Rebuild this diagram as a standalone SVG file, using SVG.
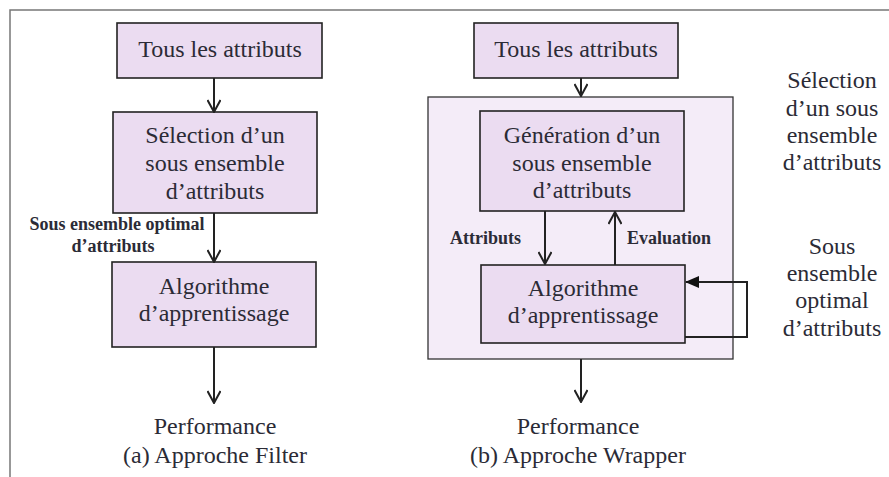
<svg xmlns="http://www.w3.org/2000/svg" width="889" height="477" viewBox="0 0 889 477">
<defs>
<marker id="open" viewBox="0 0 14 14" refX="13" refY="7" markerWidth="14" markerHeight="14" markerUnits="userSpaceOnUse" orient="auto">
<polyline points="1,0.5 13,7 1,13.5" fill="none" stroke="#222" stroke-width="2"/>
</marker>
<marker id="solid" viewBox="0 0 14 12" refX="13" refY="6" markerWidth="14" markerHeight="12" markerUnits="userSpaceOnUse" orient="auto">
<polygon points="0,0 14,6 0,12" fill="#111"/>
</marker>
</defs>
<style>
.box{fill:#ebdcf1;stroke:#222;stroke-width:1.6}
.wrap{fill:#f4ecf8;stroke:#333;stroke-width:1.3}
.t{font-family:"Liberation Serif","Times New Roman",serif;font-size:24px;fill:#2b2b36;text-anchor:middle}
.s{font-family:"Liberation Serif","Times New Roman",serif;font-size:18px;font-weight:bold;fill:#2b2b36}
.c{fill:none;stroke:#222;stroke-width:2}
.frame{fill:none;stroke:#777;stroke-width:1.5}
</style>
<rect width="889" height="477" fill="#ffffff"/>
<polyline class="frame" points="10,477 10,10 889,10"/>

<g id="wrapper">
<rect class="wrap" x="428" y="97" width="305" height="262"/>
</g>

<g id="a-tous">
<rect class="box" x="117" y="23" width="205" height="55"/>
<text class="t" x="220" y="57">Tous les attributs</text>
</g>
<g id="a-selection">
<rect class="box" x="113" y="112" width="204" height="101"/>
<text class="t" x="215" y="143">Sélection d’un</text>
<text class="t" x="215" y="171">sous ensemble</text>
<text class="t" x="215" y="199">d’attributs</text>
</g>
<g id="a-algo">
<rect class="box" x="112" y="262" width="204" height="85"/>
<text class="t" x="214" y="294">Algorithme</text>
<text class="t" x="214" y="321">d’apprentissage</text>
</g>
<g id="a-perf">
<text class="t" x="215" y="434">Performance</text>
<text class="t" x="215" y="463">(a) Approche Filter</text>
</g>
<g id="a-label">
<text class="s" x="117" y="230" text-anchor="middle">Sous ensemble optimal</text>
<text class="s" x="113" y="252" text-anchor="middle">d’attributs</text>
</g>

<g id="b-tous">
<rect class="box" x="474" y="23" width="204" height="55"/>
<text class="t" x="576" y="57">Tous les attributs</text>
</g>
<g id="b-generation">
<rect class="box" x="480" y="111" width="204" height="100"/>
<text class="t" x="582" y="143">Génération d’un</text>
<text class="t" x="582" y="171">sous ensemble</text>
<text class="t" x="582" y="198">d’attributs</text>
</g>
<g id="b-algo">
<rect class="box" x="481" y="265" width="204" height="78"/>
<text class="t" x="583" y="296">Algorithme</text>
<text class="t" x="583" y="323">d’apprentissage</text>
</g>
<g id="b-labels">
<text class="s" x="450" y="244">Attributs</text>
<text class="s" x="627" y="244">Evaluation</text>
</g>
<g id="b-perf">
<text class="t" x="578" y="434">Performance</text>
<text class="t" x="578" y="463">(b) Approche Wrapper</text>
</g>
<g id="b-side1">
<text class="t" x="832" y="88">Sélection</text>
<text class="t" x="832" y="116">d’un sous</text>
<text class="t" x="832" y="143">ensemble</text>
<text class="t" x="832" y="170">d’attributs</text>
</g>
<g id="b-side2">
<text class="t" x="832" y="254">Sous</text>
<text class="t" x="832" y="281">ensemble</text>
<text class="t" x="832" y="308">optimal</text>
<text class="t" x="832" y="336">d’attributs</text>
</g>

<g id="connectors">
<line class="c" x1="214" y1="78" x2="214" y2="112" marker-end="url(#open)"/>
<line class="c" x1="214" y1="213" x2="214" y2="262" marker-end="url(#open)"/>
<line class="c" x1="214" y1="347" x2="214" y2="403" marker-end="url(#open)"/>
<line class="c" x1="581" y1="78" x2="581" y2="96" marker-end="url(#open)" stroke-width="1.6"/>
<line class="c" x1="545" y1="211" x2="545" y2="264" marker-end="url(#open)"/>
<line class="c" x1="615" y1="265" x2="615" y2="212" marker-end="url(#open)"/>
<line class="c" x1="581" y1="359" x2="581" y2="402" marker-end="url(#open)"/>
<polyline class="c" points="685,337 747,337 747,282 686,282" stroke="#444" stroke-width="1.8" marker-end="url(#solid)"/>
</g>
</svg>
